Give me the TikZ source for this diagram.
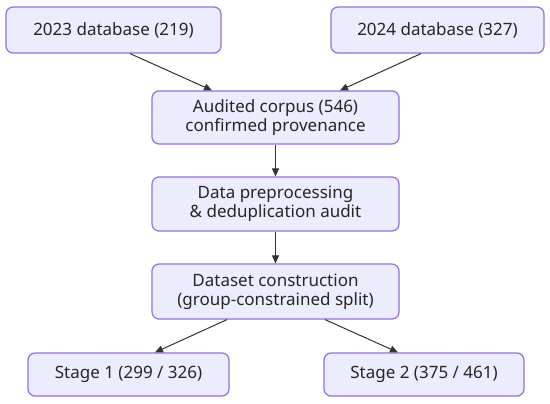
\documentclass[tikz,border=0pt]{standalone}
\usepackage{fontspec}
\setmainfont{Noto Sans}
\usetikzlibrary{arrows.meta}
\definecolor{boxfill}{HTML}{ECECFF}
\definecolor{boxline}{HTML}{9370DB}
\definecolor{arrowc}{HTML}{333333}
\begin{document}
\begin{tikzpicture}[x=1pt,y=-1pt,
  box/.style={draw=boxline,fill=boxfill,line width=1.2pt,rounded corners=7pt,align=center,
    font=\fontsize{17}{19}\selectfont,text=black!85,inner sep=0pt},
  conn/.style={draw=arrowc,line width=1pt,-{Triangle[length=8pt,width=7pt]}}]
\useasboundingbox (0,0) rectangle (550,404);
\fill[white] (0,0) rectangle (550,404);
\node[box,minimum width=215pt,minimum height=46pt] (a) at (113.5,30) {2023 database (219)};
\node[box,minimum width=213pt,minimum height=46pt] (b) at (437.5,30) {2024 database (327)};
\node[box,minimum width=247pt,minimum height=53pt] (c) at (275.5,117.5) {Audited corpus (546)\\confirmed provenance};
\node[box,minimum width=247pt,minimum height=54pt] (d) at (275.5,204) {Data preprocessing\\\&{} deduplication audit};
\node[box,minimum width=247pt,minimum height=55pt] (e) at (275.5,291.5) {Dataset construction\\(group-constrained split)};
\node[box,minimum width=201pt,minimum height=43pt] (f) at (128.5,374.5) {Stage 1 (299 / 326)};
\node[box,minimum width=200pt,minimum height=43pt] (g) at (424,374.5) {Stage 2 (375 / 461)};
\draw[conn] (a.south -| 130,0) -- (c.north -| 212,0);
\draw[conn] (b.south -| 421,0) -- (c.north -| 340,0);
\draw[conn] (c) -- (d);
\draw[conn] (d) -- (e);
\draw[conn] (e.south -| 227,0) -- (f.north -| 155,0);
\draw[conn] (e.south -| 325,0) -- (g.north -| 398,0);
\end{tikzpicture}
\end{document}
